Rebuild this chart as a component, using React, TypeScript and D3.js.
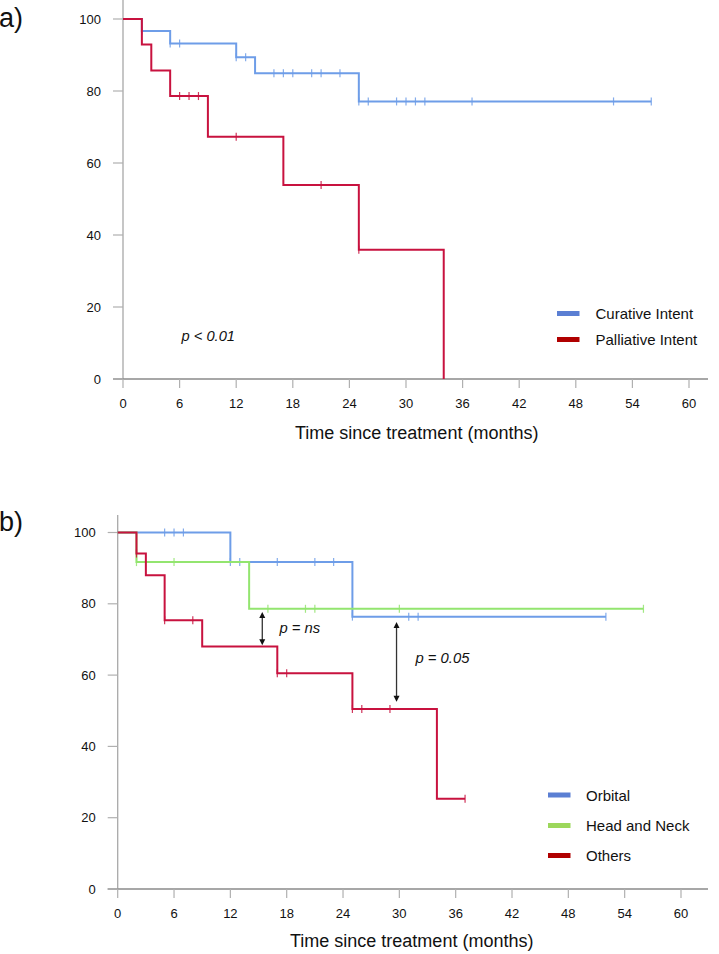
import React from "react";
import * as d3 from "d3";

// ---------- data ----------
const xTicks = [0, 6, 12, 18, 24, 30, 36, 42, 48, 54, 60];
const yTicks = [0, 20, 40, 60, 80, 100];

// Panel a
const curativeTimes = [0, 2, 5, 12, 14, 25];
const curativeSurv = [100, 96.7, 93.2, 89.4, 84.9, 77.1];
const curativeEnd = 56;
const curativeCensor = [2, 5, 6, 12, 13, 16, 17, 18, 20, 21, 23, 25, 26, 29, 30, 31, 32, 37, 52, 56];

const palliativeTimes = [0, 2, 3, 5, 9, 17, 25, 34];
const palliativeSurv = [100, 92.9, 85.7, 78.6, 67.3, 53.9, 35.9, 0];
const palliativeEnd = 34;
const palliativeCensor = [6, 7, 8, 12, 21, 25];

// Panel b
const orbitalTimes = [0, 12, 25];
const orbitalSurv = [100, 91.7, 76.4];
const orbitalEnd = 52;
const orbitalCensor = [5, 6, 7, 12, 13, 17, 21, 23, 25, 31, 32, 52];

const headNeckTimes = [0, 2, 14];
const headNeckSurv = [100, 91.7, 78.6];
const headNeckEnd = 56;
const headNeckCensor = [2, 6, 16, 20, 21, 30, 56];

const othersTimes = [0, 2, 3, 5, 9, 17, 25, 34];
const othersSurv = [100, 94.1, 88.0, 75.4, 68.0, 60.5, 50.5, 25.3];
const othersEnd = 37;
const othersCensor = [2, 5, 8, 17, 18, 25, 26, 29, 37];

const legendA = ["Curative Intent", "Palliative Intent"];
const legendB = ["Orbital", "Head and Neck", "Others"];

// annotation arrows (month, from value, to value) and p labels
const arrowMonths = [15.4, 29.7];
const arrowFrom = [77.7, 74.9];
const arrowTo = [68.4, 52.5];

const BLUE = "#6e9de8";
const RED = "#c8123f";
const GREEN = "#93e56f";
const BLUE_SW = "#5b7fd3";
const RED_SW = "#b00000";
const GREEN_SW = "#9cd75b";

const FONT = "'Liberation Sans', Arial, Helvetica, sans-serif";

type Series = {
  times: number[];
  surv: number[];
  end: number;
  censor: number[];
  color: string;
};

function survAt(s: Series, t: number) {
  let v = s.surv[0];
  for (let i = 0; i < s.times.length; i++) if (s.times[i] <= t) v = s.surv[i];
  return v;
}

function Curve({ s, x, y }: { s: Series; x: any; y: any }) {
  const pts: [number, number][] = s.times.map((t, i) => [t, s.surv[i]]);
  pts.push([s.end, s.surv[s.surv.length - 1]]);
  const line = d3
    .line<[number, number]>()
    .x((d) => x(d[0]))
    .y((d) => y(d[1]))
    .curve(d3.curveStepAfter);
  return (
    <g>
      <path d={line(pts) || ""} fill="none" stroke={s.color} strokeWidth={2} />
      {s.censor.map((t, i) => (
        <line
          key={i}
          x1={x(t)}
          x2={x(t)}
          y1={y(survAt(s, t)) - 4}
          y2={y(survAt(s, t)) + 4}
          stroke={s.color}
          strokeWidth={1.2}
          opacity={0.85}
        />
      ))}
    </g>
  );
}

function Axes({ x, y, axisTop, axisRight }: { x: any; y: any; axisTop: number; axisRight: number }) {
  const x0 = x(0);
  const y0 = y(0);
  return (
    <g fontFamily={FONT} fontSize={13} fill="#111">
      <line x1={x0} x2={x0} y1={axisTop} y2={y0} stroke="#a8a8a8" strokeWidth={1.3} />
      <line x1={x0 - 10} x2={axisRight} y1={y0} y2={y0} stroke="#8a8a8a" strokeWidth={1.3} />
      {yTicks.map((v) => (
        <g key={"y" + v}>
          <line x1={x0 - 10} x2={x0} y1={y(v)} y2={y(v)} stroke="#b0b0b0" strokeWidth={1.2} />
          <text x={x0 - 22} y={y(v)} textAnchor="end" dominantBaseline="central">
            {v}
          </text>
        </g>
      ))}
      {xTicks.map((v) => (
        <g key={"x" + v}>
          <line x1={x(v)} x2={x(v)} y1={y0} y2={y0 + 9} stroke="#b0b0b0" strokeWidth={1.2} />
          <text x={x(v)} y={y0 + 24} textAnchor="middle" dominantBaseline="central">
            {v}
          </text>
        </g>
      ))}
    </g>
  );
}

function Legend({
  labels,
  colors,
  sx,
  tx,
  ys,
}: {
  labels: string[];
  colors: string[];
  sx: number;
  tx: number;
  ys: number[];
}) {
  return (
    <g fontFamily={FONT} fontSize={15} fill="#111">
      {labels.map((l, i) => (
        <g key={l}>
          <rect x={sx} y={ys[i] - 2.5} width={22.5} height={5} fill={colors[i]} />
          <text x={tx} y={ys[i]} dominantBaseline="central">
            {l}
          </text>
        </g>
      ))}
    </g>
  );
}

function Arrow({ x, y1, y2 }: { x: number; y1: number; y2: number }) {
  const h = 6;
  const w = 3;
  return (
    <g>
      <line x1={x} x2={x} y1={y1 + h - 1} y2={y2 - h + 1} stroke="#333" strokeWidth={1.3} />
      <path d={`M${x},${y1} L${x - w},${y1 + h} L${x + w},${y1 + h} Z`} fill="#111" />
      <path d={`M${x},${y2} L${x - w},${y2 - h} L${x + w},${y2 - h} Z`} fill="#111" />
    </g>
  );
}

export default function App() {
  // panel a scales
  const xa = d3.scaleLinear().domain([0, 60]).range([123, 689]);
  const ya = d3.scaleLinear().domain([0, 100]).range([379, 19]);
  // panel b scales
  const xb = d3.scaleLinear().domain([0, 60]).range([117.7, 681]);
  const yb = d3.scaleLinear().domain([0, 100]).range([889, 532.5]);

  const curative: Series = { times: curativeTimes, surv: curativeSurv, end: curativeEnd, censor: curativeCensor, color: BLUE };
  const palliative: Series = { times: palliativeTimes, surv: palliativeSurv, end: palliativeEnd, censor: palliativeCensor, color: RED };
  const orbital: Series = { times: orbitalTimes, surv: orbitalSurv, end: orbitalEnd, censor: orbitalCensor, color: BLUE };
  const headNeck: Series = { times: headNeckTimes, surv: headNeckSurv, end: headNeckEnd, censor: headNeckCensor, color: GREEN };
  const others: Series = { times: othersTimes, surv: othersSurv, end: othersEnd, censor: othersCensor, color: RED };

  return (
    <svg
      width={719}
      height={954}
      style={{ position: "absolute", left: 0, top: 0, background: "#fff" }}
    >
      <rect x={0} y={0} width={719} height={954} fill="#fff" />
      {/* Panel a */}
      <text x={-1} y={27} fontFamily={FONT} fontSize={27} fill="#111">
        a)
      </text>
      <Axes x={xa} y={ya} axisTop={0} axisRight={708} />
      <Curve s={curative} x={xa} y={ya} />
      <Curve s={palliative} x={xa} y={ya} />
      <text x={xa(6.2)} y={341} fontFamily={FONT} fontSize={14.7} fontStyle="italic" fill="#111">
        p &lt; 0.01
      </text>
      <Legend labels={legendA} colors={[BLUE_SW, RED_SW]} sx={557} tx={595.5} ys={[313.5, 339.5]} />
      <text x={295} y={439} fontFamily={FONT} fontSize={18} fill="#111">
        Time since treatment (months)
      </text>

      {/* Panel b */}
      <text x={-1} y={531} fontFamily={FONT} fontSize={27} fill="#111">
        b)
      </text>
      <Axes x={xb} y={yb} axisTop={515} axisRight={708} />
      <Curve s={orbital} x={xb} y={yb} />
      <Curve s={headNeck} x={xb} y={yb} />
      <Curve s={others} x={xb} y={yb} />
      {arrowMonths.map((m, i) => (
        <Arrow key={i} x={xb(m)} y1={yb(arrowFrom[i])} y2={yb(arrowTo[i])} />
      ))}
      <text x={279.5} y={632.5} fontFamily={FONT} fontSize={14.8} fontStyle="italic" fill="#111">
        p = ns
      </text>
      <text x={415.5} y={663} fontFamily={FONT} fontSize={14.8} fontStyle="italic" fill="#111">
        p = 0.05
      </text>
      <Legend labels={legendB} colors={[BLUE_SW, GREEN_SW, RED_SW]} sx={548} tx={586} ys={[795, 825.5, 855.5]} />
      <text x={290} y={947} fontFamily={FONT} fontSize={18} fill="#111">
        Time since treatment (months)
      </text>
    </svg>
  );
}
